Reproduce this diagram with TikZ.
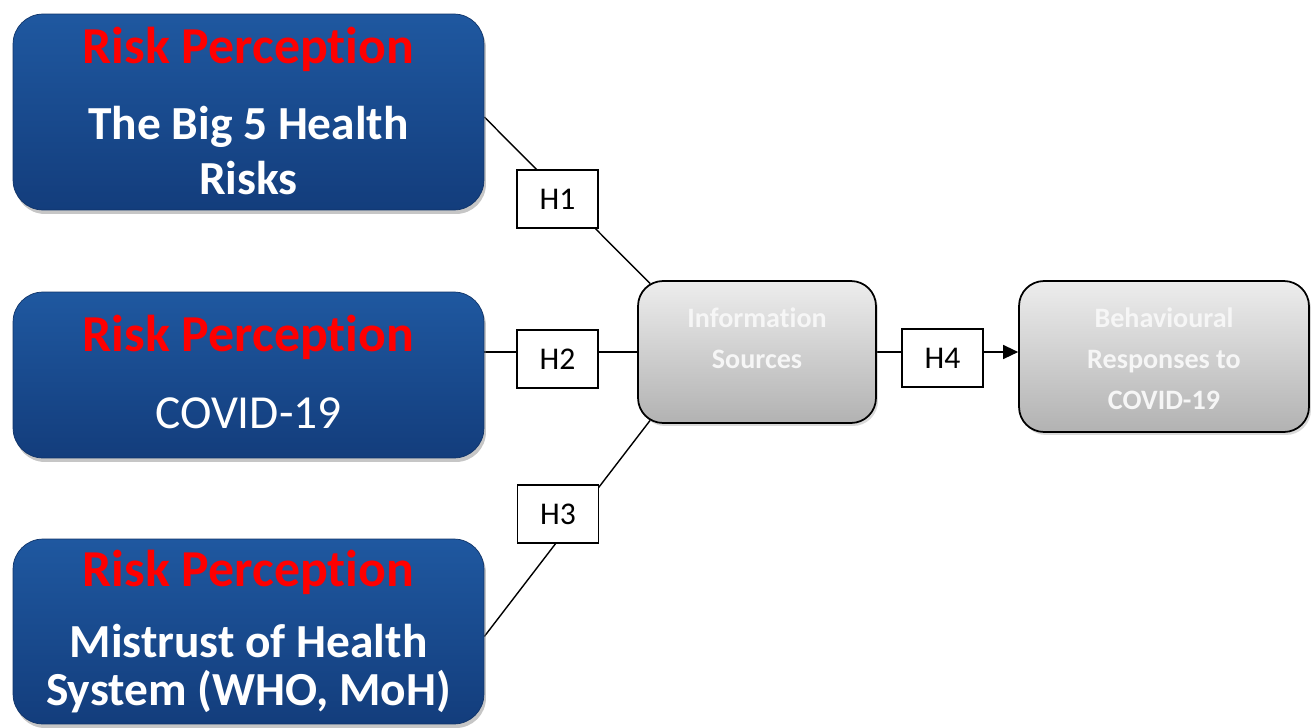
\documentclass[tikz,border=0pt]{standalone}
\usepackage{fontspec}
\setmainfont[Ligatures=NoCommon]{Carlito}
\usetikzlibrary{arrows.meta,shadows,backgrounds}
\definecolor{boxtop}{HTML}{1F58A0}
\definecolor{boxbot}{HTML}{133D7C}
\definecolor{riskred}{HTML}{FF0000}
\definecolor{greytop}{HTML}{EDEDED}
\definecolor{greybot}{HTML}{B2B2B2}
\definecolor{softwhite}{HTML}{F6F6F6}
\begin{document}
\begin{tikzpicture}[
    x=0.02cm,y=-0.02cm,
    riskbox/.style={rounded corners=0.6cm,minimum width=9.42cm,
        top color=boxtop,bottom color=boxbot,draw=boxbot!85!black,line width=0.4pt,
        drop shadow={shadow xshift=0.04cm,shadow yshift=-0.08cm,opacity=0.45}},
    greybox/.style={rounded corners=0.5cm,top color=greytop,bottom color=greybot,
        draw=black,line width=1pt,
        drop shadow={shadow xshift=0.04cm,shadow yshift=-0.06cm,opacity=0.3}},
    hyp/.style={draw=black,fill=white,line width=0.6pt,minimum width=1.62cm,
        minimum height=1.16cm,font=\fontsize{18}{20}\selectfont},
    risk/.style={font=\fontsize{29.5}{34}\selectfont\bfseries,text=riskred,inner sep=0pt},
    bodytext/.style={font=\fontsize{27}{27.3}\selectfont\bfseries,text=white,
        align=center,inner sep=0pt},
    greytext/.style={font=\fontsize{16}{23.3}\selectfont\bfseries,text=softwhite,
        align=center,inner sep=0pt},
    link/.style={draw=black,line width=0.8pt}]
    \useasboundingbox (0,0) rectangle (1314,727);
    \node[riskbox,minimum height=3.92cm] (b1) at (248.5,112) {};
    \node[riskbox,minimum height=3.32cm] (b2) at (248.5,375) {};
    \node[riskbox,minimum height=3.70cm] (b3) at (248.5,631.5) {};
    \node[risk,anchor=base] (r1) at (248.5,63) {Risk Perception};
    \node[risk,anchor=base] (r2) at (248.5,351) {Risk Perception};
    \node[risk,anchor=base] (r3) at (248.5,586) {Risk Perception};
    \node[bodytext,anchor=base] (t1) at (248.5,194) {The Big 5 Health\\[4pt]Risks};
    \node[bodytext,font=\fontsize{27}{30}\selectfont\mdseries,anchor=base] (t2)
        at (248.5,428) {COVID-19};
    \node[bodytext,anchor=base] (t3) at (248.5,705) {Mistrust of Health\\System (WHO, MoH)};
    \node[greybox,minimum width=4.76cm,minimum height=2.84cm] (info) at (757,352) {};
    \node[greybox,minimum width=5.8cm,minimum height=3.02cm] (beh) at (1164,356.5) {};
    \node[greytext] (infot) at (757,338) {Information\\Sources};
    \node[greytext] (beht) at (1164,359) {Behavioural\\Responses to\\COVID-19};
    \node[hyp] (h1) at (557.5,199) {H1};
    \node[hyp] (h2) at (557.5,359) {H2};
    \node[hyp] (h3) at (558,514) {H3};
    \node[hyp] (h4) at (942.5,358) {H4};
    \begin{pgfonlayer}{background}
    \draw[link] ([yshift=-0.1cm]b1.east) -- ([xshift=0.26cm,yshift=-0.07cm]info.north west);
    \draw[link] (info.west -| b2.east) -- (info.west);
    \draw[link] ([yshift=-0.1cm]b3.east) -- ([xshift=0.26cm,yshift=0.07cm]info.south west);
    \draw[link,-{Triangle[length=0.3cm,width=0.28cm]}] (info.east) -- (info.east -| beh.west);
    \end{pgfonlayer}
\end{tikzpicture}
\end{document}
